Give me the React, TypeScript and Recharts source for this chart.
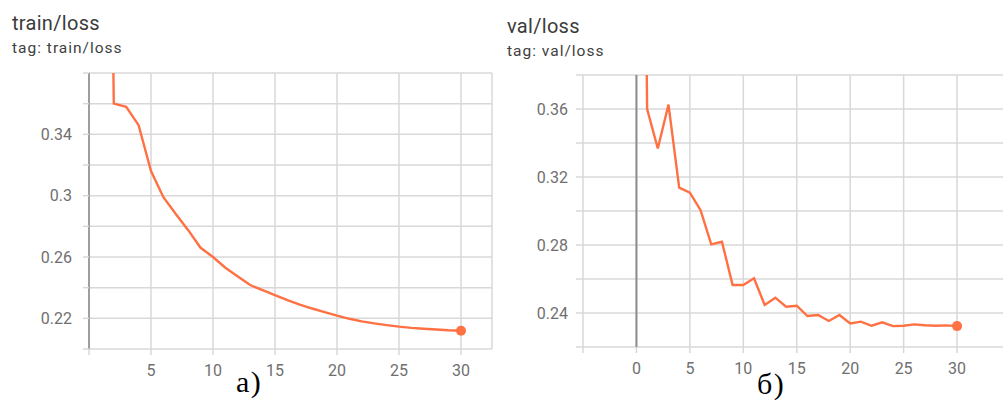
import { LineChart, Line, XAxis, YAxis, CartesianGrid, ReferenceLine, ReferenceDot } from "recharts";

// epochs and losses
const trainEpochs = [1, 2, 3, 4, 5, 6, 7, 8, 9, 10, 11, 12, 13, 14, 15, 16, 17, 18, 19, 20, 21, 22, 23, 24, 25, 26, 27, 28, 29, 30];
const trainLoss = [
  0.98, 0.36, 0.358, 0.346, 0.316, 0.299, 0.288, 0.2775, 0.266, 0.26,
  0.253, 0.2473, 0.2417, 0.2384, 0.2352, 0.2319, 0.229, 0.2264, 0.2241, 0.2218,
  0.2197, 0.218, 0.2167, 0.2156, 0.2146, 0.2138, 0.2132, 0.2127, 0.2122, 0.2119,
];

const valEpochs = [0, 1, 2, 3, 4, 5, 6, 7, 8, 9, 10, 11, 12, 13, 14, 15, 16, 17, 18, 19, 20, 21, 22, 23, 24, 25, 26, 27, 28, 29, 30];
const valLoss = [
  0.95, 0.36, 0.3368, 0.3626, 0.3137, 0.3108, 0.3005, 0.2804, 0.2819, 0.2565, 0.2565,
  0.2604, 0.2447, 0.249, 0.2437, 0.2443, 0.2382, 0.2388, 0.2353, 0.2388, 0.2339,
  0.2349, 0.2325, 0.2345, 0.2323, 0.2325, 0.2333, 0.2328, 0.2325, 0.2327, 0.2323,
];

const trainXTicks = [0, 5, 10, 15, 20, 25, 30];
const trainYTicks = [0.2, 0.22, 0.24, 0.26, 0.28, 0.3, 0.32, 0.34, 0.36, 0.38];
const trainYLabels = [0.22, 0.26, 0.3, 0.34];

const valXTicks = [-5, 0, 5, 10, 15, 20, 25, 30, 35];
const valYTicks = [0.22, 0.24, 0.26, 0.28, 0.3, 0.32, 0.34, 0.36, 0.38];
const valYLabels = [0.24, 0.28, 0.32, 0.36];

const LINE = "#ff7043";
const GRID = "#d8d8d8";
const TICK_TEXT = { fill: "#6f6f6f", fontSize: 16, fontFamily: "Roboto" };

const trainData = trainEpochs.map((e, i) => ({ step: e, loss: trainLoss[i] }));
const valData = valEpochs.map((e, i) => ({ step: e, loss: valLoss[i] }));

function fmtY(labels: number[]) {
  return (v: number) => (labels.some((l) => Math.abs(l - v) < 1e-6) ? String(+v.toFixed(2)) : "");
}

function Title({ left, top, name }: { left: number; top: number; name: string }) {
  return (
    <div style={{ position: "absolute", left, top, fontFamily: "Roboto", color: "#3b3b3b" }}>
      <div style={{ fontSize: 20, lineHeight: "20px", letterSpacing: 0.3 }}>{name}</div>
      <div style={{ fontSize: 15.5, lineHeight: "16px", marginTop: 7, letterSpacing: 1, color: "#3f3f3f" }}>tag: {name}</div>
    </div>
  );
}

const captionStyle = {
  position: "absolute" as const,
  fontFamily: "Liberation Serif",
  fontSize: 30,
  lineHeight: "30px",
  letterSpacing: 1.5,
  color: "#000",
};

export default function App() {
  return (
    <div style={{ position: "absolute", left: 0, top: 0, width: 1003, height: 401, overflow: "hidden", background: "#fff" }}>
      <Title left={12} top={13} name="train/loss" />
      <Title left={507} top={16} name="val/loss" />

      <div style={{ position: "absolute", left: 0, top: 0 }}>
        <LineChart width={500} height={401} data={trainData} margin={{ top: 73, right: 8, bottom: 0, left: 0 }}>
          <CartesianGrid stroke={GRID} strokeWidth={1.5} />
          <XAxis
            dataKey="step"
            type="number"
            domain={[0, 32.5]}
            ticks={trainXTicks}
            tickFormatter={(v: number) => (v === 0 ? "" : String(v))}
            height={52}
            axisLine={false}
            tickSize={6}
            tickMargin={10}
            tickLine={{ stroke: GRID, strokeWidth: 1.5 }}
            tick={TICK_TEXT}
          />
          <YAxis
            type="number"
            domain={[0.2, 0.38]}
            allowDataOverflow
            ticks={trainYTicks}
            tickFormatter={fmtY(trainYLabels)}
            width={89}
            axisLine={false}
            tickSize={6}
            tickMargin={11}
            tickLine={{ stroke: GRID, strokeWidth: 1.5 }}
            tick={TICK_TEXT}
          />
          <ReferenceLine x={0} stroke="#9e9e9e" strokeWidth={2} />
          <Line type="linear" dataKey="loss" stroke={LINE} strokeWidth={2.4} dot={false} isAnimationActive={false} />
          <ReferenceDot x={trainEpochs[trainEpochs.length - 1]} y={trainLoss[trainLoss.length - 1]} r={5} fill={LINE} stroke="none" />
        </LineChart>
      </div>

      <div style={{ position: "absolute", left: 500, top: 0 }}>
        <LineChart width={520} height={401} data={valData} margin={{ top: 75, right: 9.5, bottom: 0, left: 0 }}>
          <CartesianGrid stroke={GRID} strokeWidth={1.5} />
          <XAxis
            dataKey="step"
            type="number"
            domain={[-5, 35]}
            ticks={valXTicks}
            tickFormatter={(v: number) => (v < 0 || v > 30 ? "" : String(v))}
            height={54}
            axisLine={false}
            tickSize={6}
            tickMargin={10}
            tickLine={{ stroke: GRID, strokeWidth: 1.5 }}
            tick={TICK_TEXT}
          />
          <YAxis
            type="number"
            domain={[0.22, 0.38]}
            allowDataOverflow
            ticks={valYTicks}
            tickFormatter={fmtY(valYLabels)}
            width={83}
            axisLine={false}
            tickSize={7}
            tickMargin={8}
            tickLine={{ stroke: GRID, strokeWidth: 1.5 }}
            tick={TICK_TEXT}
          />
          <ReferenceLine x={0} stroke="#8e8e8e" strokeWidth={2} />
          <Line type="linear" dataKey="loss" stroke={LINE} strokeWidth={2.4} dot={false} isAnimationActive={false} />
          <ReferenceDot x={valEpochs[valEpochs.length - 1]} y={valLoss[valLoss.length - 1]} r={5} fill={LINE} stroke="none" />
        </LineChart>
      </div>

      <div style={{ ...captionStyle, left: 236, top: 367 }}>а)</div>
      <div style={{ ...captionStyle, left: 757, top: 369 }}>б)</div>
    </div>
  );
}
